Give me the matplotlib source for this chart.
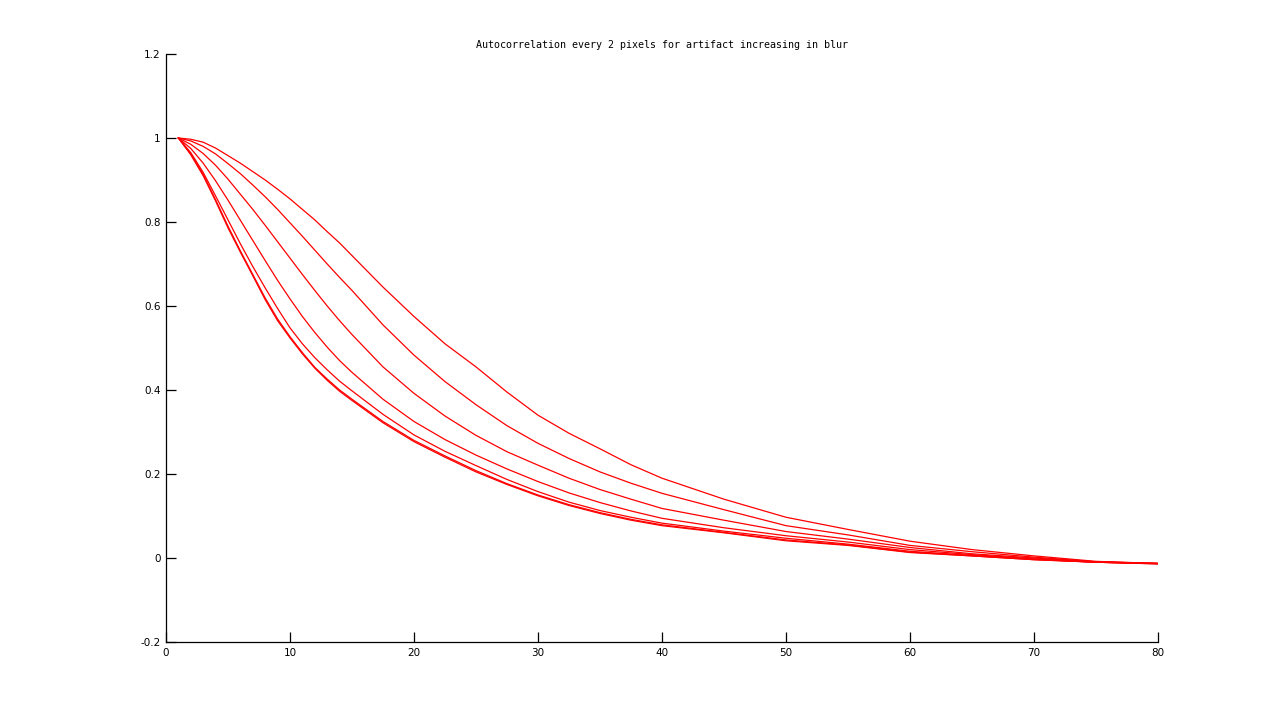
import matplotlib
matplotlib.use("Agg")
import matplotlib.pyplot as plt

# sample positions (lag in pixels) and autocorrelation values
lags = [1, 2, 3, 4, 5, 6, 7, 8, 9, 10, 11, 12, 13, 14, 15, 17.5, 20, 22.5, 25, 27.5,
        30, 32.5, 35, 37.5, 40, 45, 50, 55, 60, 65, 70, 75, 80]

curve1 = [1.0, 0.997, 0.99, 0.976, 0.958, 0.94, 0.92, 0.90, 0.878, 0.855, 0.83, 0.805, 0.777, 0.75, 0.72,
          0.645, 0.575, 0.51, 0.455, 0.395, 0.34, 0.297, 0.26, 0.222, 0.19, 0.14, 0.097, 0.068, 0.04,
          0.02, 0.005, -0.008, -0.013]
curve2 = [1.0, 0.993, 0.98, 0.962, 0.939, 0.915, 0.888, 0.86, 0.83, 0.798, 0.766, 0.733, 0.70, 0.668, 0.637,
          0.555, 0.483, 0.42, 0.365, 0.315, 0.273, 0.237, 0.205, 0.178, 0.154, 0.115, 0.077, 0.055, 0.03,
          0.015, 0.002, -0.009, -0.013]
curve3 = [1.0, 0.985, 0.963, 0.935, 0.902, 0.866, 0.83, 0.792, 0.753, 0.714, 0.675, 0.637, 0.60, 0.565, 0.532,
          0.455, 0.392, 0.338, 0.292, 0.253, 0.221, 0.19, 0.163, 0.14, 0.118, 0.09, 0.063, 0.045, 0.025,
          0.01, 0.0, -0.009, -0.013]
curve4 = [1.0, 0.975, 0.94, 0.898, 0.852, 0.804, 0.756, 0.708, 0.661, 0.617, 0.575, 0.537, 0.502, 0.47, 0.442,
          0.378, 0.325, 0.282, 0.245, 0.212, 0.182, 0.155, 0.132, 0.112, 0.0945, 0.072, 0.053, 0.038, 0.02,
          0.008, -0.002, -0.01, -0.013]
curve5 = [1.0, 0.965, 0.918, 0.862, 0.805, 0.748, 0.694, 0.643, 0.594, 0.548, 0.51, 0.477, 0.448, 0.421, 0.398,
          0.342, 0.293, 0.254, 0.22, 0.187, 0.158, 0.133, 0.113, 0.097, 0.083, 0.064, 0.047, 0.033, 0.016,
          0.006, -0.003, -0.01, -0.013]
curve6 = [1.0, 0.96, 0.91, 0.85, 0.786, 0.728, 0.672, 0.615, 0.565, 0.524, 0.486, 0.452, 0.423, 0.397, 0.375,
          0.322, 0.277, 0.24, 0.205, 0.175, 0.148, 0.125, 0.106, 0.09, 0.077, 0.06, 0.041, 0.03, 0.013,
          0.005, -0.004, -0.01, -0.014]
curve7 = [1.0, 0.962, 0.913, 0.853, 0.79, 0.731, 0.675, 0.619, 0.569, 0.527, 0.489, 0.454, 0.426, 0.4, 0.378,
          0.325, 0.28, 0.243, 0.208, 0.177, 0.15, 0.127, 0.108, 0.092, 0.079, 0.061, 0.043, 0.031, 0.014,
          0.005, -0.004, -0.01, -0.014]

curves = [curve1, curve2, curve3, curve4, curve5, curve6, curve7]

xticks = [0, 10, 20, 30, 40, 50, 60, 70, 80]
yticks = [-0.2, 0, 0.2, 0.4, 0.6, 0.8, 1, 1.2]
yticklabels = ["-0.2", "0", "0.2", "0.4", "0.6", "0.8", "1", "1.2"]

fig = plt.figure(figsize=(12.8, 7.21), dpi=100)
ax = fig.add_axes([166 / 1280, 79 / 721, 992 / 1280, 588 / 721])

for c in curves:
    ax.plot(lags, c, color="#ff0000", linewidth=0.9)

ax.set_xlim(0, 80)
ax.set_ylim(-0.2, 1.2)
ax.set_xticks(xticks)
ax.set_xticklabels([str(t) for t in xticks])
ax.set_yticks(yticks)
ax.set_yticklabels(yticklabels)

for s in ["top", "right"]:
    ax.spines[s].set_visible(False)
for s in ["left", "bottom"]:
    ax.spines[s].set_linewidth(0.9)

ax.tick_params(direction="in", length=7, width=0.9, labelsize=7.5, pad=4)
ax.set_title("Autocorrelation every 2 pixels for artifact increasing in blur",
             fontsize=7.2, family="DejaVu Sans Mono", pad=4)

fig.savefig("out.png", dpi=100)
